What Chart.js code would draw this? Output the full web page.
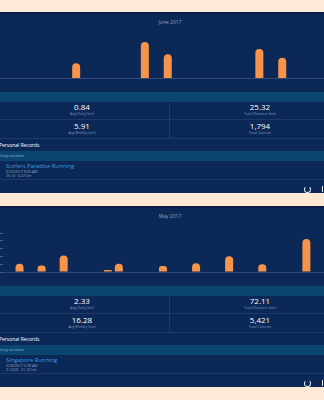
<!DOCTYPE html>
<html>
<head>
<meta charset="utf-8">
<script src="https://cdn.jsdelivr.net/npm/chart.js@4/dist/chart.umd.min.js"></script>
<style>
  html,body{margin:0;padding:0;}
  body{width:324px;height:400px;background:#fde9d6;position:relative;overflow:hidden;font-family:"Open Sans","Noto Sans",sans-serif;}
  .panel{position:absolute;left:0;width:324px;height:179px;background:#0c2857;overflow:hidden;}
  .topline{position:absolute;left:0;width:324px;height:2px;background:#0a1c45;}
  .title{position:absolute;left:0;width:340px;text-align:center;top:5px;font-size:5px;color:#8fa3c4;}
  .strip{position:absolute;left:0;width:324px;background:#0b4670;}
  .val{position:absolute;width:120px;text-align:center;color:#fff;font-size:8px;line-height:10px;}
  .lab{position:absolute;width:120px;text-align:center;color:#8297bb;font-size:3.6px;line-height:4px;}
  .hline{position:absolute;left:0;width:324px;height:1px;background:#1c3a6c;}
  .vline{position:absolute;left:169px;width:1px;background:#1c3a6c;}
  .pr{position:absolute;left:-1px;color:#fff;font-size:5px;line-height:6px;white-space:nowrap;}
  .act{position:absolute;left:-7px;color:#9fb2d0;font-size:3.8px;line-height:5px;white-space:nowrap;}
  .rt{position:absolute;left:6px;color:#3e9be0;font-size:5.8px;line-height:6px;white-space:nowrap;}
  .rs{position:absolute;left:6px;color:#90a3c2;font-size:3.6px;line-height:4px;white-space:nowrap;}
  .icon{position:absolute;left:304px;width:5px;height:5px;border:1px solid #e6ecf5;border-radius:50%;border-top-color:transparent;}
  .icon2{position:absolute;left:322px;width:1px;height:6px;background:#e6ecf5;}
  .cwrap{position:absolute;left:0;width:324px;overflow:hidden;}
  .cwrap canvas{position:absolute;top:0;}
</style>
</head>
<body>
<script>
// ---- data ----
const juneDays = ["1","2","3","4","5","6","7","8","9","10","11","12","13","14","15","16","17","18","19","20","21","22","23","24","25","26","27","28","29","30"];
const juneDistance = [0,0,0,3.05,0,0,7.36,4.85,0,0,0,5.93,4.13,0,0,0,0,0,0,0,0,0,0,0,0,0,0,0,0,0];
const mayDays = ["1","2","3","4","5","6","7","8","9","10","11","12","13","14","15","16","17","18","19","20","21","22","23","24","25","26","27","28","29","30","31"];
const mayDistance = [0,5.23,0,4.15,0,10.62,0,0,0,1.24,5.23,0,0,0,3.78,0,0,5.56,0,0,10.09,0,0,5.02,0,0,0,21.19,0,0,0];
const mayTicks = [0,5,10,15,20,25];

const panels = [
  {top:14, month:"June 2017", days:juneDays, values:juneDistance, yMax:8, showY:false,
   canvasLeft:-4, canvasWidth:687,
   stats:[["0.84","Avg Daily (km)"],["25.32","Total Distance (km)"],["5.91","Avg Weekly (km)"],["1,794","Total Calories"]],
   record:["Surfers Paradise Running","6/30/2017 8:00 AM","25:14 · 4.22 km"]},
  {top:208, month:"May 2017", days:mayDays, values:mayDistance, yMax:25, showY:true,
   canvasLeft:0, canvasWidth:345,
   stats:[["2.33","Avg Daily (km)"],["72.11","Total Distance (km)"],["16.28","Avg Weekly (km)"],["5,421","Total Calories"]],
   record:["Singapore Running","5/28/2017 5:08 AM","2:13:08 · 21.19 km"]}
];

function el(cls, styles, text){
  const d=document.createElement('div'); d.className=cls;
  Object.assign(d.style, styles); if(text!==undefined) d.textContent=text;
  document.body.appendChild(d); return d;
}

panels.forEach(p=>{
  const P=p.top;
  el('topline',{top:(P-2)+'px'});
  const panel=el('panel',{top:P+'px'});
  const t=document.createElement('div'); t.className='title'; t.textContent=p.month; panel.appendChild(t);

  // chart
  const wrap=el('cwrap',{top:(P+25)+'px',height:'48px'});
  const cv=document.createElement('canvas');
  cv.style.left=p.canvasLeft+'px';
  cv.width=p.canvasWidth; cv.height=47;
  cv.style.width=p.canvasWidth+'px'; cv.style.height='47px';
  wrap.appendChild(cv);
  new Chart(cv,{
    type:'bar',
    data:{labels:p.days,datasets:[{data:p.values,backgroundColor:'#f7944a',barThickness:8,
      inflateAmount:0,
      borderRadius:(c)=> (c.raw>0 ? {topLeft:4,topRight:4,bottomLeft:0,bottomRight:0} : 0),
      borderSkipped:'bottom'}]},
    options:{
      responsive:false,animation:false,devicePixelRatio:1,
      layout:{padding:0},
      plugins:{legend:{display:false},tooltip:{enabled:false}},
      scales:{
        x:{display:true,ticks:{display:false},grid:{display:false},
           border:{display:true,color:'#2f4878',width:1,dash:[1,4]}},
        y:{display:p.showY,min:0,max:p.yMax,
           afterBuildTicks:(ax)=>{ if(p.showY){ ax.ticks=mayTicks.map(v=>({value:v})); } },
           ticks:{display:false},
           grid:{display:true,drawOnChartArea:false,drawTicks:true,tickLength:3,color:'#4a5f86'},
           border:{display:false}}
      }
    }
  });

  el('strip',{top:(P+78)+'px',height:'10px'});
  // stats
  const cx=[22,200];
  el('val',{left:cx[0]+'px',top:(P+88)+'px'},p.stats[0][0]);
  el('lab',{left:cx[0]+'px',top:(P+98)+'px'},p.stats[0][1]);
  el('val',{left:cx[1]+'px',top:(P+88)+'px'},p.stats[1][0]);
  el('lab',{left:cx[1]+'px',top:(P+98)+'px'},p.stats[1][1]);
  el('hline',{top:(P+105)+'px'});
  el('val',{left:cx[0]+'px',top:(P+107)+'px'},p.stats[2][0]);
  el('lab',{left:cx[0]+'px',top:(P+117)+'px'},p.stats[2][1]);
  el('val',{left:cx[1]+'px',top:(P+107)+'px'},p.stats[3][0]);
  el('lab',{left:cx[1]+'px',top:(P+117)+'px'},p.stats[3][1]);
  el('hline',{top:(P+124)+'px'});
  el('vline',{top:(P+89)+'px',height:'35px'});
  el('pr',{top:(P+128)+'px'},'Personal Records');
  el('strip',{top:(P+137)+'px',height:'10px'});
  el('act',{top:(P+139)+'px'},'Running activities');
  el('rt',{top:(P+149)+'px'},p.record[0]);
  el('rs',{top:(P+156)+'px'},p.record[1]);
  el('rs',{top:(P+160)+'px'},p.record[2]);
  el('hline',{top:(P+165)+'px'});
  el('icon',{top:(P+172)+'px'});
  el('icon2',{top:(P+172)+'px'});
});
</script>
</body>
</html>
